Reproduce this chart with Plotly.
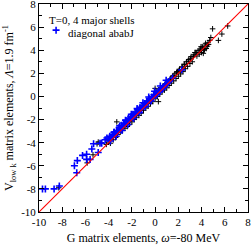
import plotly.graph_objects as go

# off-diagonal matrix elements (black)
black_x = [-8.3, -5.85, -5.35, -5.0, -4.9, -4.65, -4.2, -4.0, -3.85, -3.7, -3.6, -3.5, -3.4, -3.3, -3.25,
           -3.1, -3.0, -2.9, -2.8, -2.7, -2.6, -2.5, -2.4, -2.3, -2.2, -2.1, -2.0, -1.9, -1.8, -1.7,
           -1.6, -1.5, -1.4, -1.3, -1.2, -1.1, -1.0, -0.9, -0.8, -0.7, -0.6, -0.5, -0.4, -0.3, -0.2,
           -0.1, 0.0, 0.1, 0.2, 0.3, 0.4, 0.5, 0.6, 0.7, 0.8, 0.9, 1.0, 1.1, 1.2, 1.3,
           1.4, 1.5, 1.6, 1.7, 1.8, 1.9, 2.0, 2.1, 2.2, 2.3, 2.4, 2.5, 2.6, 2.7, 2.8,
           2.9, 3.0, 3.1, 3.2, 3.3, 3.45, 3.6, 3.7, 3.8, 3.9, 4.0, 4.1, 4.2, 4.3, 4.4,
           4.5, 4.6, 4.7, 4.8, 4.95, 5.45, 5.75, 6.25, 0.0, 0.28, 4.15, 3.27, 3.44,
           -3.95, -3.45, -2.95, -2.45, -1.95, -1.45, -0.95, -0.45, 0.05, 0.55, 1.05, 1.55,
           2.05, 2.55, 3.05, 3.55, 4.05, -3.15, -2.65, -2.15, -1.65, -1.15, -0.65, -0.15,
           0.35, 0.85, 1.35, 1.85, 2.35, 2.85, 3.35, 3.85, 4.35, 4.55, 4.25, 3.95]
black_y = [-7.9, -5.75, -5.05, -4.1, -3.95, -4.0, -4.15, -3.95, -4.05, -3.55, -3.75, -3.3, -3.55, -2.2, -3.3,
           -2.85, -3.1, -2.6, -2.95, -2.45, -2.75, -2.2, -2.6, -2.0, -2.4, -1.85, -2.2, -1.6, -2.0, -1.4,
           -1.8, -1.25, -1.65, -1.0, -1.45, -0.8, -1.2, -0.65, -1.0, -0.4, -0.85, -0.25, -0.6, -0.05, -0.45,
           0.15, -0.2, 0.35, 0.0, 0.55, 0.2, 0.7, 0.4, 0.9, 0.55, 1.1, 0.75, 1.3, 0.95, 1.5,
           1.15, 1.7, 1.35, 1.95, 1.55, 2.15, 1.75, 2.35, 1.95, 2.55, 2.15, 2.8, 2.4, 3.0, 2.6,
           3.2, 2.85, 3.45, 3.0, 3.45, 3.8, 3.5, 3.95, 3.65, 4.1, 3.8, 4.2, 4.0, 4.45, 4.15,
           4.35, 4.5, 4.85, 5.1, 5.85, 4.85, 5.4, 6.1, 0.7, -0.45, 3.73, 3.44, 3.79,
           -3.8, -3.2, -2.75, -2.3, -1.75, -1.3, -0.75, -0.3, 0.2, 0.75, 1.2, 1.8,
           2.25, 2.75, 3.3, 3.8, 4.3, -3.05, -2.5, -2.05, -1.5, -1.0, -0.5, 0.0,
           0.55, 1.05, 1.5, 2.05, 2.55, 3.05, 3.6, 4.0, 4.6, 4.65, 4.05, 4.3]

# diagonal matrix elements (blue)
blue_x = [-9.7, -9.45, -8.7, -8.25, -6.95, -6.75, -6.7, -6.25, -5.9, -5.6, -5.9, -5.45, -5.3, -4.9, -4.6,
          -4.75, -4.3, -4.15, -4.0, -3.9, -3.8, -3.7, -3.6, -3.5, -3.4, -3.3, -3.2, -3.1, -3.0, -2.9,
          -2.8, -2.7, -2.6, -2.5, -2.4, -2.3, -2.2, -2.1, -2.0, -1.9, -1.8, -1.7, -1.6, -1.5, -1.4,
          -1.3, -1.2, -1.1, -1.0, -0.9, -0.8, -0.7, -0.6, -0.5, -0.4, -0.3, -0.2, -0.1, 0.0, 0.1,
          0.2, 0.3, 0.4, 0.5, 0.6, 0.7, 0.8, 0.9, 1.0, 1.1, 1.2, 1.5, 2.3, -3.85, -3.35,
          -2.85, -2.35, -1.85, -1.35, -0.85, -0.35, 0.15, 0.65, -3.55, -3.05, -2.55, -2.05, -1.55, -1.05,
          -0.55, -0.05, 0.45, 0.95]
blue_y = [-8.0, -8.0, -8.0, -7.75, -6.0, -6.6, -5.55, -5.1, -5.45, -5.45, -5.0, -4.55, -4.1, -4.85, -4.05,
          -4.05, -3.75, -3.6, -3.7, -3.45, -3.55, -3.3, -3.4, -3.1, -3.25, -2.95, -3.0, -2.7, -2.85, -2.5,
          -2.6, -2.3, -2.4, -2.1, -2.25, -1.9, -2.0, -1.75, -1.8, -1.55, -1.6, -1.35, -1.45, -1.15, -1.25,
          -0.95, -1.05, -0.8, -0.85, -0.6, -0.7, -0.4, -0.5, -0.2, -0.3, -0.05, -0.1, 0.15, 0.1, 0.3,
          0.25, 0.45, 0.45, 0.65, 0.6, 0.8, 0.85, 1.0, 1.05, 1.2, 1.3, 1.6, 2.3, -3.85, -3.45,
          -2.95, -2.45, -1.9, -1.4, -0.9, -0.4, 0.15, 0.7, -3.1, -2.55, -2.05, -1.55, -1.05, -0.55,
          -0.05, 0.45, 0.9, 1.4]

# reference line V = G
diag_x = [-10, 8]
diag_y = [-10, 8]

tick_vals = [-10, -8, -6, -4, -2, 0, 2, 4, 6, 8]
tick_text = ["-10", "-8", "-6", "-4", "-2", "0", "2", "4", "6", "8"]

legend_title = "T=0, 4 major shells"
legend_label = "diagonal ababJ"

serif = "Liberation Serif"

fig = go.Figure()
fig.add_trace(go.Scatter(x=black_x, y=black_y, mode="markers", showlegend=False,
                         marker=dict(symbol="cross-thin", size=4, line=dict(color="black", width=1))))
fig.add_trace(go.Scatter(x=blue_x, y=blue_y, mode="markers", name=" ",
                         marker=dict(symbol="cross-thin", size=5, color="blue",
                                     line=dict(color="blue", width=1.6))))
fig.add_trace(go.Scatter(x=diag_x, y=diag_y, mode="lines", showlegend=False,
                         line=dict(color="red", width=1.1)))

axis_common = dict(range=[-10, 8], tickvals=tick_vals, ticktext=tick_text, ticks="inside",
                   ticklen=5, tickwidth=1, tickcolor="black", showline=True, linecolor="black",
                   linewidth=1, mirror="ticks", showgrid=False, zeroline=False, automargin=False,
                   ticklabeloverflow="allow",
                   minor=dict(dtick=1, ticks="inside", ticklen=3, tickcolor="black", showgrid=False),
                   tickfont=dict(family=serif, size=11, color="black"))

fig.update_layout(
    width=251, height=245,
    margin=dict(l=39, r=3, t=4, b=33, autoexpand=False),
    paper_bgcolor="white", plot_bgcolor="white",
    xaxis=dict(**axis_common,
               title=dict(text="G matrix elements, <i>ω</i>=-80 MeV", standoff=6,
                          font=dict(family=serif, size=12, color="black"))),
    yaxis=dict(**axis_common,
               title=dict(text="V<sub>low k</sub> matrix elements, <i>Λ</i>=1.9 fm<sup>-1</sup>",
                          standoff=4, font=dict(family=serif, size=12, color="black"))),
    legend=dict(x=-0.014, y=0.944, xanchor="left", yanchor="top", bgcolor="rgba(0,0,0,0)",
                font=dict(family=serif, size=11, color="black"),
                itemwidth=30, tracegroupgap=0),
    annotations=[
        dict(text=legend_title, xref="paper", yref="paper", x=(47 - 39) / 209, y=1 - 16 / 208,
             xanchor="left", yanchor="middle", showarrow=False,
             font=dict(family=serif, size=11, color="black")),
        dict(text=legend_label, xref="paper", yref="paper", x=(66 - 39) / 209, y=1 - 29 / 208,
             xanchor="left", yanchor="middle", showarrow=False,
             font=dict(family=serif, size=11, color="black")),
    ],
)

fig.write_html("out.html", config={"displayModeBar": False},
               post_script="document.body.style.margin='0';")
